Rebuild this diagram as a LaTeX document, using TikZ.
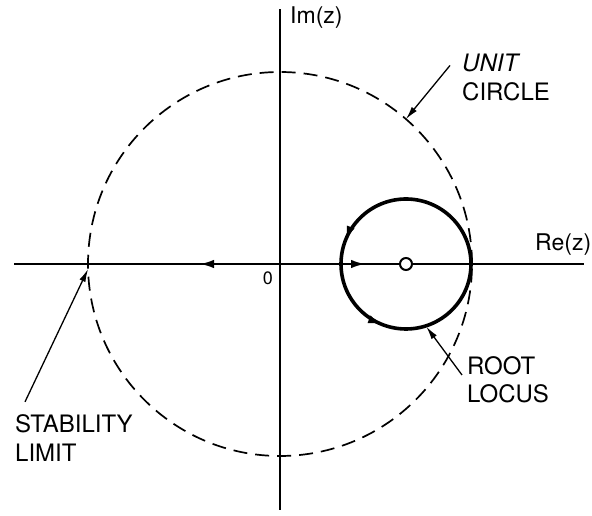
\documentclass[tikz,border=0pt]{standalone}
\usepackage{fontspec}
\setmainfont{TeX Gyre Heros}
\usetikzlibrary{arrows.meta,decorations.markings,calc}
\begin{document}
\begin{tikzpicture}[x=1pt,y=1pt,
  axis/.style={line width=1.9pt},
  unitc/.style={line width=1.7pt,dash pattern=on 14pt off 8pt},
  locus/.style={line width=3.6pt},
  lead/.style={line width=1.3pt,-{Latex[length=13pt,width=6.5pt]}},
  lbl/.style={font=\fontsize{24}{28}\selectfont,inner sep=0pt,anchor=base west},
  axtip/.tip={Latex[length=14pt,width=8.5pt]}]
  \useasboundingbox (0,0) rectangle (592,516);
  \coordinate (O) at (280,252);
  \coordinate (P) at (406,252);
  \coordinate (left) at (14,252);
  \coordinate (right) at (584,252);
  \coordinate (top) at (280,507);
  \coordinate (bottom) at (280,6);
  \draw[axis,postaction={decorate},decoration={markings,
    mark=at position 186pt with {\arrowreversed{axtip}},
    mark=at position 351pt with {\arrow{axtip}}}] (left) -- (right);
  \draw[axis] (bottom) -- (top);
  \draw[unitc] (O) circle[radius=192];
  \draw[locus,postaction={decorate},decoration={markings,
    mark=at position 0.44 with {\arrow{axtip}},
    mark=at position 0.69 with {\arrow{axtip}}}] (P) ++(65,0) arc[start angle=0,end angle=360,radius=65];
  \node[circle,draw,fill=white,line width=2pt,minimum size=12pt,inner sep=0pt] (pole) at (P) {};
  \node[font=\fontsize{23}{27}\selectfont,inner sep=0pt,anchor=base west] (im) at (290,492) {Im(z)};
  \node[font=\fontsize{23}{27}\selectfont,inner sep=0pt,anchor=base west] (re) at (535,265) {Re(z)};
  \node[font=\fontsize{18}{21}\selectfont,inner sep=0pt] (zero) at (268,238) {0};
  \node[lbl,font=\fontsize{24}{28}\selectfont\itshape] (unit) at (462,444) {UNIT};
  \node[lbl] (circ) at (462,415) {CIRCLE};
  \node[lbl] (root) at (467,141) {ROOT};
  \node[lbl] (loc) at (467,113) {LOCUS};
  \node[lbl] (stab) at (15,83) {STABILITY};
  \node[lbl] (lim) at (15,54) {LIMIT};
  \coordinate (ucpt) at ($(O)+(49:192)$);
  \coordinate (rlpt) at ($(P)+(-72:66)$);
  \coordinate (slpt) at ($(O)+(181.5:192)$);
  \draw[lead] ([shift={(-12pt,-2pt)}]unit.west) -- (ucpt);
  \draw[lead] ([shift={(-5pt,0pt)}]root.base west) -- (rlpt);
  \draw[lead] ([shift={(10pt,13pt)}]stab.north west) -- (slpt);
\end{tikzpicture}
\end{document}
